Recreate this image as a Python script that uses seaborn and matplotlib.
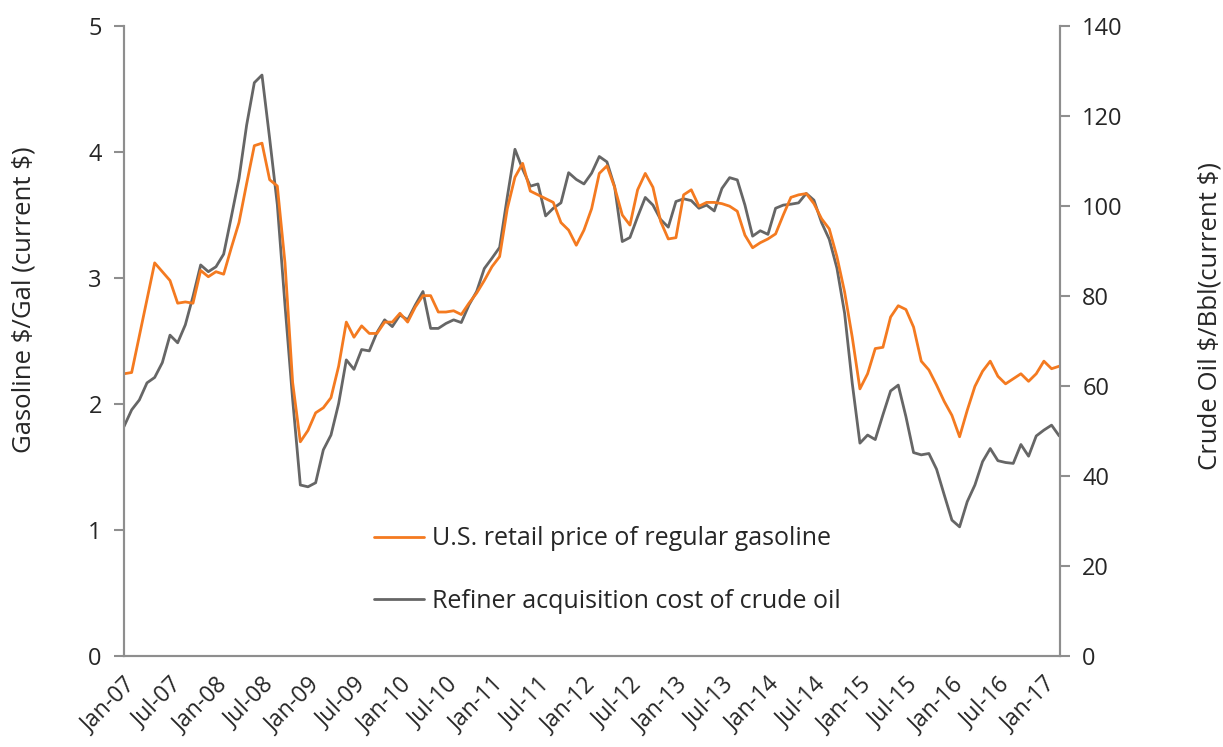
import seaborn as sns
import matplotlib.pyplot as plt
import numpy as np
import pandas as pd

# monthly values Jan-07 .. Mar-17
gasoline = [2.24, 2.25, 2.54, 2.83, 3.12, 3.05, 2.98, 2.80, 2.81, 2.80, 3.06, 3.01,
            3.05, 3.03, 3.24, 3.44, 3.75, 4.05, 4.07, 3.78, 3.73, 3.12, 2.17, 1.70,
            1.79, 1.93, 1.97, 2.05, 2.30, 2.65, 2.53, 2.62, 2.56, 2.56, 2.65, 2.65,
            2.72, 2.65, 2.77, 2.86, 2.86, 2.73, 2.73, 2.74, 2.71, 2.80, 2.88, 2.98,
            3.09, 3.17, 3.55, 3.80, 3.91, 3.69, 3.66, 3.63, 3.60, 3.44, 3.38, 3.26,
            3.38, 3.55, 3.83, 3.89, 3.72, 3.50, 3.42, 3.70, 3.83, 3.72, 3.45, 3.31,
            3.32, 3.66, 3.70, 3.57, 3.60, 3.60, 3.59, 3.57, 3.53, 3.34, 3.24, 3.28,
            3.31, 3.35, 3.50, 3.64, 3.66, 3.67, 3.59, 3.47, 3.39, 3.17, 2.89, 2.53,
            2.12, 2.24, 2.44, 2.45, 2.69, 2.78, 2.75, 2.61, 2.34, 2.27, 2.15, 2.02,
            1.91, 1.74, 1.95, 2.14, 2.26, 2.34, 2.22, 2.16, 2.20, 2.24, 2.18, 2.24,
            2.34, 2.28, 2.30]

crude = [51.0, 54.7, 56.9, 60.7, 61.9, 65.2, 71.3, 69.6, 73.6, 79.9, 86.9, 85.4,
         86.5, 89.3, 97.6, 106.1, 118.0, 127.4, 129.1, 115.0, 100.3, 78.0, 57.0, 38.0,
         37.6, 38.5, 45.8, 49.1, 56.1, 65.8, 63.7, 68.1, 67.8, 71.9, 74.7, 73.2,
         75.8, 74.7, 78.0, 81.0, 72.8, 72.8, 73.9, 74.7, 74.1, 78.0, 81.0, 86.1,
         88.4, 90.8, 102.0, 112.6, 108.2, 104.4, 104.9, 97.8, 99.5, 100.7, 107.4, 105.9,
         104.9, 107.3, 111.0, 109.8, 104.3, 92.1, 93.0, 97.6, 101.9, 100.2, 97.0, 95.3,
         101.0, 101.6, 101.2, 99.5, 100.2, 98.9, 103.9, 106.3, 105.8, 100.2, 93.3, 94.5,
         93.7, 99.5, 100.2, 100.4, 100.7, 102.8, 101.3, 96.3, 92.6, 86.2, 76.2, 60.6,
         47.3, 49.1, 48.1, 53.6, 58.9, 60.2, 53.2, 45.2, 44.7, 45.0, 41.5, 35.8,
         30.2, 28.7, 34.3, 38.0, 43.2, 46.1, 43.4, 43.0, 42.8, 47.0, 44.4, 48.9,
         50.2, 51.3, 48.9]

months = pd.date_range("2007-01-01", periods=len(gasoline), freq="MS")
tick_labels = [d.strftime("%b-%y") for d in months[::6]]

df = pd.DataFrame({"idx": np.arange(len(months)), "gas": gasoline, "crude": crude})

sns.set_theme(style="white")
plt.rcParams['font.family'] = ['Open Sans', 'DejaVu Sans']
plt.rcParams['text.parse_math'] = False

orange = "#F47A20"
grey = "#666666"
spine = "#8E8E8E"

fig = plt.figure(figsize=(12.23, 7.47), dpi=100)
ax = fig.add_axes([124/1223, 1-656/747, (1060-124)/1223, (656-26)/747])
ax2 = ax.twinx()

sns.lineplot(data=df, x="idx", y="gas", ax=ax, color=orange, lw=2.0,
             label="U.S. retail price of regular gasoline", legend=False)
sns.lineplot(data=df, x="idx", y="crude", ax=ax2, color=grey, lw=2.0,
             label="Refiner acquisition cost of crude oil", legend=False)

ax.set_xlim(0, 122.1)
ax.set_ylim(0, 5)
ax2.set_ylim(0, 140)
ax.set_yticks(range(0, 6))
ax2.set_yticks(range(0, 141, 20))
ax.set_xticks(df["idx"][::6])
ax.set_xticklabels(tick_labels, rotation=45, ha="right", rotation_mode="anchor", fontsize=16.5)
ax.tick_params(axis="x", length=7, width=1.5, color=spine, pad=5)
ax.tick_params(axis="y", length=7, width=1.5, color=spine, labelsize=17, pad=9)
ax2.tick_params(axis="y", length=7, width=1.5, color=spine, labelsize=17, pad=9)

for a in (ax, ax2):
    a.spines["top"].set_visible(False)
    for s in ("left", "right", "bottom"):
        a.spines[s].set_color(spine)
        a.spines[s].set_linewidth(1.5)

ax.set_xlabel("")
ax.set_ylabel("Gasoline $/Gal (current $)", fontsize=18.5)
ax2.set_ylabel("Crude Oil $/Bbl(current $)", fontsize=18.5, rotation=90)
ax.yaxis.set_label_coords(-0.093, 0.565)
ax2.yaxis.set_label_coords(1.147, 0.54)

h1, l1 = ax.get_legend_handles_labels()
h2, l2 = ax2.get_legend_handles_labels()
leg = ax.legend(h1 + h2, l1 + l2, loc="upper left", bbox_to_anchor=(0.254, 0.2254),
                frameon=False, fontsize=18, borderpad=0, handlelength=2.0,
                handletextpad=0.3, labelspacing=1.5)
ax.set_zorder(ax2.get_zorder() + 1)
ax.patch.set_visible(False)

plt.savefig("out.png", dpi=100)
